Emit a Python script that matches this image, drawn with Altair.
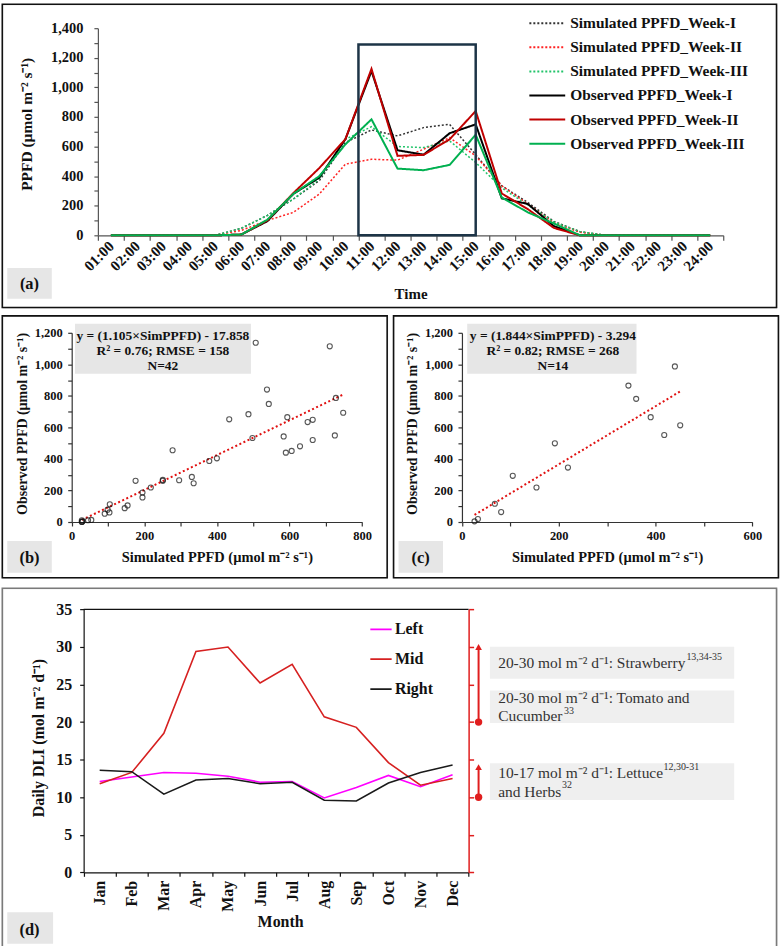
import json
import altair as alt
import pandas as pd

SERIF = "Liberation Serif"
INK = "#111111"

# ---------------- (a) hourly PPFD, simulated vs observed ----------------
hour_labels = ["01:00", "02:00", "03:00", "04:00", "05:00", "06:00", "07:00", "08:00",
               "09:00", "10:00", "11:00", "12:00", "13:00", "14:00", "15:00", "16:00",
               "17:00", "18:00", "19:00", "20:00", "21:00", "22:00", "23:00", "24:00"]
hour_index = list(range(1, 25))

sim_week1 = [0, 0, 0, 0, 0, 47, 134, 245, 370, 627, 712, 672, 728, 750, 545, 335, 222, 94, 25, 0, 0, 0, 0, 0]
sim_week2 = [0, 0, 0, 0, 0, 33, 100, 155, 279, 481, 514, 508, 582, 660, 537, 335, 211, 85, 20, 0, 0, 0, 0, 0]
sim_week3 = [0, 0, 0, 0, 0, 47, 134, 245, 380, 649, 734, 600, 593, 638, 492, 320, 205, 90, 25, 0, 0, 0, 0, 0]
obs_week1 = [0, 0, 0, 0, 0, 5, 95, 280, 390, 650, 1110, 575, 545, 690, 750, 250, 212, 62, 0, 0, 0, 0, 0, 0]
obs_week2 = [0, 0, 0, 0, 0, 5, 100, 285, 455, 650, 1125, 537, 544, 649, 840, 283, 177, 50, 0, 0, 0, 0, 0, 0]
obs_week3 = [0, 0, 0, 0, 0, 5, 105, 280, 400, 615, 784, 451, 440, 476, 680, 256, 155, 80, 0, 0, 0, 0, 0, 0]

series_names = ["Simulated PPFD_Week-I", "Simulated PPFD_Week-II", "Simulated PPFD_Week-III",
                "Observed PPFD_Week-I", "Observed PPFD_Week-II", "Observed PPFD_Week-III"]
series_colors = ["#333333", "#ff2222", "#22c46a", "#000000", "#c00000", "#00b050"]
series_dashes = [[2, 2], [2, 2], [2, 2], [1, 0], [1, 0], [1, 0]]

# highlighted midday window (11:00 band start to 15:00) and its height
window_hours = [10.5, 15.0]
window_top = 1290

# ---------------- (b) and (c) scatter: simulated vs observed ----------------
sim_b = [28, 28, 28, 30, 45, 54, 91, 99, 104, 105, 146, 154, 176, 195, 195, 218, 251, 251, 278, 296,
         331, 336, 379, 400, 434, 487, 498, 507, 538, 543, 584, 590, 594, 606, 629, 650, 664, 664,
         711, 725, 728, 748]
obs_b = [0, 2, 11, 4, 11, 13, 53, 78, 61, 112, 88, 105, 261, 187, 156, 219, 267, 261, 455, 265,
         286, 246, 387, 404, 651, 684, 533, 1137, 840, 749, 543, 440, 665, 451, 480, 634, 648, 520,
         1114, 549, 787, 693]
fit_b = (1.105, -17.858)
stats_b = ["y = (1.105×SimPPFD) - 17.858", "R² = 0.76; RMSE = 158", "N=42"]

sim_c = [26, 33, 68, 81, 105, 154, 192, 219, 344, 360, 390, 418, 440, 451]
obs_c = [4, 19, 116, 63, 293, 219, 499, 345, 865, 781, 665, 552, 987, 613]
fit_c = (1.844, -3.294)
stats_c = ["y = (1.844×SimPPFD) - 3.294", "R² = 0.82; RMSE = 268", "N=14"]

# ---------------- (d) monthly daily light integral ----------------
months = ["Jan", "Feb", "Mar", "Apr", "May", "Jun", "Jul", "Aug", "Sep", "Oct", "Nov", "Dec"]
dli_left = [12.1, 12.7, 13.3, 13.2, 12.8, 12.0, 12.1, 9.9, 11.3, 12.9, 11.4, 13.0]
dli_mid = [11.8, 13.3, 18.5, 29.4, 30.0, 25.2, 27.7, 20.7, 19.3, 14.6, 11.6, 12.5]
dli_right = [13.6, 13.4, 10.4, 12.3, 12.5, 11.8, 12.0, 9.6, 9.5, 11.9, 13.3, 14.3]
position_names = ["Left", "Mid", "Right"]
position_colors = ["#ff00ff", "#d62020", "#1a1a1a"]

crop_low = [20, 10]
crop_tip = [30, 14]
RED = "#e01e1e"

one = pd.DataFrame({"k": [0]})


def rect(x, x2, y, y2, fill):
    return alt.Chart(one).mark_rect(fill=fill, strokeWidth=0).encode(
        x=alt.value(x), x2=alt.value(x2), y=alt.value(y), y2=alt.value(y2))


def frame(w, h, stroke, sw=1.6):
    return alt.Chart(one).mark_rect(filled=False, stroke=stroke, strokeWidth=sw).encode(
        x=alt.value(0), x2=alt.value(w), y=alt.value(0), y2=alt.value(h))


def text(t, x, y, size, weight="normal", align="left", color=INK):
    return alt.Chart(one).mark_text(
        text=t, font=SERIF, fontSize=size, fontWeight=weight, align=align,
        baseline="middle", color=color).encode(x=alt.value(x), y=alt.value(y))


def axis(**kw):
    base = dict(grid=False, labelFont=SERIF, labelFontWeight="bold", labelColor=INK,
                titleFont=SERIF, titleFontWeight="bold", titleColor=INK,
                titleAlign="center", titleBaseline="middle", domainColor="#333333",
                tickColor="#333333", domainWidth=1.2, tickWidth=1.2, labelOverlap=False)
    base.update(kw)
    return alt.Axis(**base)


# ======================= panel (a) =======================
W_A, H_A = 777.5, 304.5
hourly_sim = pd.DataFrame({
    "hour": hour_index * 3,
    "ppfd": sim_week1 + sim_week2 + sim_week3,
    "series": sum([[n] * 24 for n in series_names[:3]], []),
})
hourly_obs = pd.DataFrame({
    "hour": hour_index * 3,
    "ppfd": obs_week1 + obs_week2 + obs_week3,
    "series": sum([[n] * 24 for n in series_names[3:]], []),
})

xa_scale = alt.Scale(domain=[0.5, 24.5], range=[96, 724], nice=False, zero=False)
ya_scale = alt.Scale(domain=[0, 1400], range=[232, 24], nice=False, zero=False)
xa_axis = axis(
    values=[i + 0.5 for i in range(25)],
    labelExpr="datum.value > 24 ? '' : " + json.dumps(hour_labels) + "[floor(datum.value)]",
    labelOffset=13.08, labelAngle=315, labelAlign="right", labelBaseline="middle",
    labelPadding=3, labelFlush=False, labelFontSize=15, labelSeparation=-60,
    tickSize=5, offset=-72.5, domainColor="#555555", tickColor="#555555",
    title="Time", titleFontSize=15, titleX=410, titleY=58.7, titleAngle=0,
)
ya_axis = axis(
    values=list(range(0, 1401, 100)),
    labelExpr="datum.value % 200 == 0 ? format(datum.value, ',') : ''",
    labelFontSize=14.5, labelPadding=11, tickSize=4, offset=-96,
    domainColor="#555555", tickColor="#555555",
    title="PPFD (µmol m⁻² s⁻¹)", titleFontSize=15.5, titleX=-71.3, titleY=120, titleAngle=270,
)
legend_a = alt.Legend(
    orient="none", legendX=528.3, legendY=11, title=None, symbolType="stroke",
    symbolSize=1296, symbolStrokeWidth=2, clipHeight=16, rowPadding=7.2, padding=0,
    labelFont=SERIF, labelFontSize=15.5, labelFontWeight="bold", labelColor=INK, labelOffset=4,
    labelLimit=0,
)
color_a = alt.Color("series:N", scale=alt.Scale(domain=series_names, range=series_colors), legend=legend_a)
dash_a = alt.StrokeDash("series:N", scale=alt.Scale(domain=series_names, range=series_dashes))

sim_lines = alt.Chart(hourly_sim).mark_line(strokeWidth=1.5).encode(
    x=alt.X("hour:Q", scale=xa_scale, axis=xa_axis),
    y=alt.Y("ppfd:Q", scale=ya_scale, axis=ya_axis),
    color=color_a, strokeDash=dash_a)
obs_lines = alt.Chart(hourly_obs).mark_line(strokeWidth=2).encode(
    x=alt.X("hour:Q", scale=xa_scale, axis=xa_axis),
    y=alt.Y("ppfd:Q", scale=ya_scale, axis=ya_axis),
    color=color_a, strokeDash=dash_a)
window = alt.Chart(one).mark_rect(filled=False, stroke="#1d3447", strokeWidth=2.5).encode(
    x=alt.XDatum(window_hours[0], scale=xa_scale, axis=xa_axis), x2=alt.datum(window_hours[1]),
    y=alt.YDatum(0, scale=ya_scale, axis=ya_axis), y2=alt.datum(window_top))

panel_a = alt.layer(
    frame(W_A, H_A, "#111111"),
    rect(5, 49.7, 264.7, 295.7, "#e6e6e6"),
    text("(a)", 27.3, 280.5, 16.5, "bold", "center"),
    sim_lines, obs_lines, window,
).properties(width=W_A, height=H_A)


# ======================= panels (b), (c) =======================
def scatter_panel(sim, obs, fit, stats, xmax, xrange, label, box_x, text_x):
    W, H = 386.5, 263
    df = pd.DataFrame({"sim": sim, "obs": obs})
    lo, hi = min(sim), max(sim)
    fit_df = pd.DataFrame({"sim": [lo, hi], "obs": [fit[0] * lo + fit[1], fit[0] * hi + fit[1]]})
    xs = alt.Scale(domain=[0, xmax], range=xrange, nice=False, zero=False)
    ys = alt.Scale(domain=[0, 1200], range=[207, 17], nice=False, zero=False)
    xax = axis(values=list(range(0, xmax + 1, 100)),
               labelExpr="datum.value % 200 == 0 ? format(datum.value, ',') : ''",
               labelFontSize=12.5, labelPadding=4, tickSize=4, offset=-56, labelFlush=False,
               title="Simulated PPFD (µmol m⁻² s⁻¹)", titleFontSize=14.5,
               titleX=(xrange[0] + xrange[1]) / 2, titleY=36, titleAngle=0)
    yax = axis(values=list(range(0, 1201, 100)),
               labelExpr="datum.value % 200 == 0 ? format(datum.value, ',') : ''",
               labelFontSize=12.5, labelPadding=5.5, tickSize=4, offset=-xrange[0],
               title="Observed PPFD (µmol m⁻² s⁻¹)", titleFontSize=14,
               titleX=-49.7, titleY=108, titleAngle=270)
    pts = alt.Chart(df).mark_point(shape="circle", filled=False, color="#111111",
                                   strokeWidth=1.1, size=26).encode(
        x=alt.X("sim:Q", scale=xs, axis=xax), y=alt.Y("obs:Q", scale=ys, axis=yax))
    line = alt.Chart(fit_df).mark_line(color="#e01010", strokeWidth=2, strokeDash=[2, 2.5]).encode(
        x=alt.X("sim:Q", scale=xs, axis=xax), y=alt.Y("obs:Q", scale=ys, axis=yax))
    layers = [
        frame(W, H, "#111111"),
        rect(box_x[0], box_x[1], 8, 58, "#e6e6e6"),
        text(stats[0], text_x, 20, 13.5, "bold", "center"),
        text(stats[1], text_x, 35, 13.5, "bold", "center"),
        text(stats[2], text_x, 50, 13.5, "bold", "center"),
        rect(5, 49.7, 226, 258, "#e6e6e6"),
        text(label, 27.3, 243, 16.5, "bold", "center"),
        line, pts,
    ]
    return alt.layer(*layers).properties(width=W, height=H)


panel_b = scatter_panel(sim_b, obs_b, fit_b, stats_b, 800, [69.7, 361.3], "(b)", (73, 249.7), 161.3)
panel_c = scatter_panel(sim_c, obs_c, fit_c, stats_c, 600, [68.7, 360.3], "(c)", (74, 244), 160)

# ======================= panel (d) =======================
W_D, H_D = 777.5, 362
monthly = pd.DataFrame({
    "month": list(range(1, 13)) * 3,
    "dli": dli_left + dli_mid + dli_right,
    "position": sum([[n] * 12 for n in position_names], []),
})
xd_scale = alt.Scale(domain=[0.5, 12.5], range=[81.7, 468.3], nice=False, zero=False)
yd_scale = alt.Scale(domain=[0, 35], range=[285.3, 21.3], nice=False, zero=False)
xd_axis = axis(
    values=[i + 0.5 for i in range(13)],
    labelExpr="datum.value > 12 ? '' : " + json.dumps(months) + "[floor(datum.value)]",
    labelOffset=16.1, labelAngle=270, labelAlign="right", labelBaseline="middle",
    labelPadding=4, labelFlush=False, labelFontSize=16,
    tickSize=4, offset=-76.7, domainColor="#111111", tickColor="#111111",
    title="Month", titleFontSize=16, titleX=279, titleY=49.4, titleAngle=0,
)
yd_axis = axis(
    values=list(range(0, 36, 5)), labelFontSize=16, labelPadding=8, tickSize=4, offset=-81.7,
    domainColor="#111111", tickColor="#111111",
    title="Daily DLI (mol m⁻² d⁻¹)", titleFontSize=16, titleX=-45, titleY=150, titleAngle=270,
)
legend_d = alt.Legend(
    orient="none", legendX=368.3, legendY=33.3, title=None, symbolType="stroke",
    symbolSize=458, symbolStrokeWidth=1.8, clipHeight=16, rowPadding=14, padding=0,
    labelFont=SERIF, labelFontSize=16, labelFontWeight="bold", labelColor=INK, labelOffset=2,
    labelLimit=0,
)
dli_lines = alt.Chart(monthly).mark_line(strokeWidth=1.6).encode(
    x=alt.X("month:Q", scale=xd_scale, axis=xd_axis),
    y=alt.Y("dli:Q", scale=yd_scale, axis=yd_axis),
    color=alt.Color("position:N", scale=alt.Scale(domain=position_names, range=position_colors),
                    legend=legend_d),
)
plot_top = alt.Chart(one).mark_rule(color="#111111", strokeWidth=1.2).encode(
    x=alt.XDatum(0.5, scale=xd_scale, axis=xd_axis), x2=alt.datum(12.5),
    y=alt.YDatum(35, scale=yd_scale, axis=yd_axis))

ranges = pd.DataFrame({"low": crop_low, "tip": crop_tip})
yr_scale = alt.Scale(domain=[0, 35], range=[285.3, 21.3], nice=False, zero=False)
yr_axis = alt.Axis(orient="right", values=list(range(0, 36, 5)), labels=False, title=None,
                   offset=-309.2, tickSize=5, tickColor=RED, domainColor=RED,
                   domainWidth=1.5, tickWidth=1.5, grid=False)
ARROW_X = 478.3
range_rules = alt.Chart(ranges).mark_rule(color=RED, strokeWidth=2).encode(
    x=alt.value(ARROW_X), y=alt.Y("low:Q", scale=yr_scale, axis=yr_axis), y2="tip:Q")
range_tips = alt.Chart(ranges).mark_point(shape="triangle-up", filled=True, color=RED,
                                          size=45, opacity=1).encode(
    x=alt.value(ARROW_X), y=alt.Y("tip:Q", scale=yr_scale, axis=yr_axis))
range_dots = alt.Chart(ranges).mark_circle(color=RED, size=55, opacity=1).encode(
    x=alt.value(ARROW_X), y=alt.Y("low:Q", scale=yr_scale, axis=yr_axis))

NOTE = "#333333"
panel_d = alt.layer(
    frame(W_D, H_D, "#7a7a7a"),
    rect(5, 51, 325.3, 357, "#e6e6e6"),
    text("(d)", 27.3, 343.7, 16.5, "bold", "center"),
    rect(489.7, 735, 58.7, 91, "#efefef"),
    rect(489.7, 735, 102.7, 135.3, "#efefef"),
    rect(489.7, 735, 175.7, 212.7, "#efefef"),
    text("20-30 mol m⁻² d⁻¹: Strawberry", 498, 75, 15.5, color=NOTE),
    text("13,34-35", 687, 69, 10, color=NOTE),
    text("20-30 mol m⁻² d⁻¹: Tomato and", 498, 110.3, 15.5, color=NOTE),
    text("Cucumber", 498, 128.7, 15.5, color=NOTE),
    text("33", 564, 123, 10, color=NOTE),
    text("10-17 mol m⁻² d⁻¹: Lettuce", 498, 185.3, 15.5, color=NOTE),
    text("12,30-31", 664, 180, 10, color=NOTE),
    text("and Herbs", 498, 204.3, 15.5, color=NOTE),
    text("32", 562, 198, 10, color=NOTE),
    alt.layer(plot_top, dli_lines),
    alt.layer(range_rules, range_dots, range_tips),
).resolve_scale(y="independent").properties(width=W_D, height=H_D)

IND = dict(x="independent", y="independent", color="independent", strokeDash="independent")
row_bc = alt.hconcat(panel_b, panel_c, spacing=2.9).resolve_scale(**IND)
upper = alt.vconcat(panel_a, row_bc, spacing=4.9).resolve_scale(**IND)
chart = alt.vconcat(upper, panel_d, spacing=6.4).resolve_scale(**IND).properties(
    padding={"left": 0.3, "top": 0.3, "right": 0, "bottom": 0}
).configure_view(strokeWidth=0).configure_axis(labelOverlap=False).configure(
    font=SERIF, background="white")

chart.save("out.html", embed_options={"renderer": "svg", "actions": False})
